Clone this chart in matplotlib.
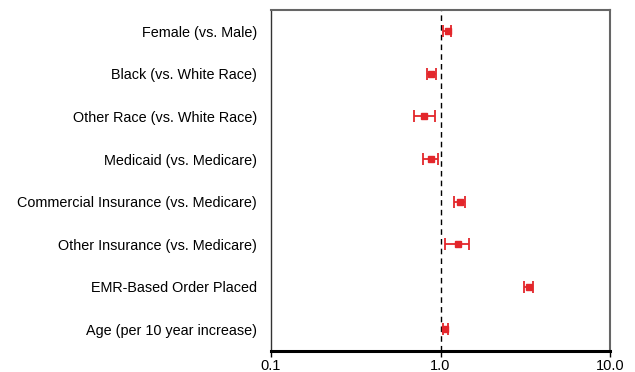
import matplotlib
matplotlib.use("Agg")
import matplotlib.pyplot as plt
import numpy as np

plt.rcParams['font.family'] = ['Liberation Sans', 'DejaVu Sans']

# odds ratios with 95% CI
labels = ['Female (vs. Male)',
          'Black (vs. White Race)',
          'Other Race (vs. White Race)',
          'Medicaid (vs. Medicare)',
          'Commercial Insurance (vs. Medicare)',
          'Other Insurance (vs. Medicare)',
          'EMR-Based Order Placed',
          'Age (per 10 year increase)']
odds = [1.10, 0.88, 0.80, 0.88, 1.31, 1.26, 3.31, 1.07]
ci_low = [1.03, 0.83, 0.70, 0.79, 1.20, 1.06, 3.12, 1.03]
ci_high = [1.16, 0.94, 0.93, 0.97, 1.40, 1.48, 3.49, 1.10]

red = '#e3262b'

fig = plt.figure(figsize=(6.35, 3.72), dpi=100)
ax = fig.add_axes([271/635, 1 - 350.7/372, (610 - 271)/635, (350.7 - 10)/372])

y = np.arange(len(labels))[::-1]
odds = np.array(odds)
err = [odds - np.array(ci_low), np.array(ci_high) - odds]
ax.errorbar(odds, y, xerr=err, fmt='s', color=red, ms=5, elinewidth=1.3,
            capsize=4.5, capthick=1.3, zorder=3)

ax.axvline(1.0, color='black', linestyle=(0, (4, 3)), linewidth=1.0, zorder=2)

ax.set_xscale('log')
ax.set_xlim(0.1, 10)
ax.set_ylim(-0.5, len(labels) - 0.5)
ax.set_xticks([0.1, 1, 10])
ax.set_xticklabels(['0.1', '1.0', '10.0'])
ax.xaxis.set_minor_locator(matplotlib.ticker.NullLocator())
ax.set_yticks(y)
ax.set_yticklabels(labels)
ax.tick_params(axis='y', length=0, pad=10, labelsize=10.4)
ax.tick_params(axis='x', length=4, width=1, direction='out', labelsize=10.5, pad=2)

ax.spines['bottom'].set_linewidth(2.2)
ax.spines['bottom'].set_color('black')
ax.spines['left'].set_linewidth(1.0)
ax.spines['left'].set_color('#333333')
for s in ['top', 'right']:
    ax.spines[s].set_color('#666666')
    ax.spines[s].set_linewidth(1.5)

fig.savefig('out.png', dpi=100)
